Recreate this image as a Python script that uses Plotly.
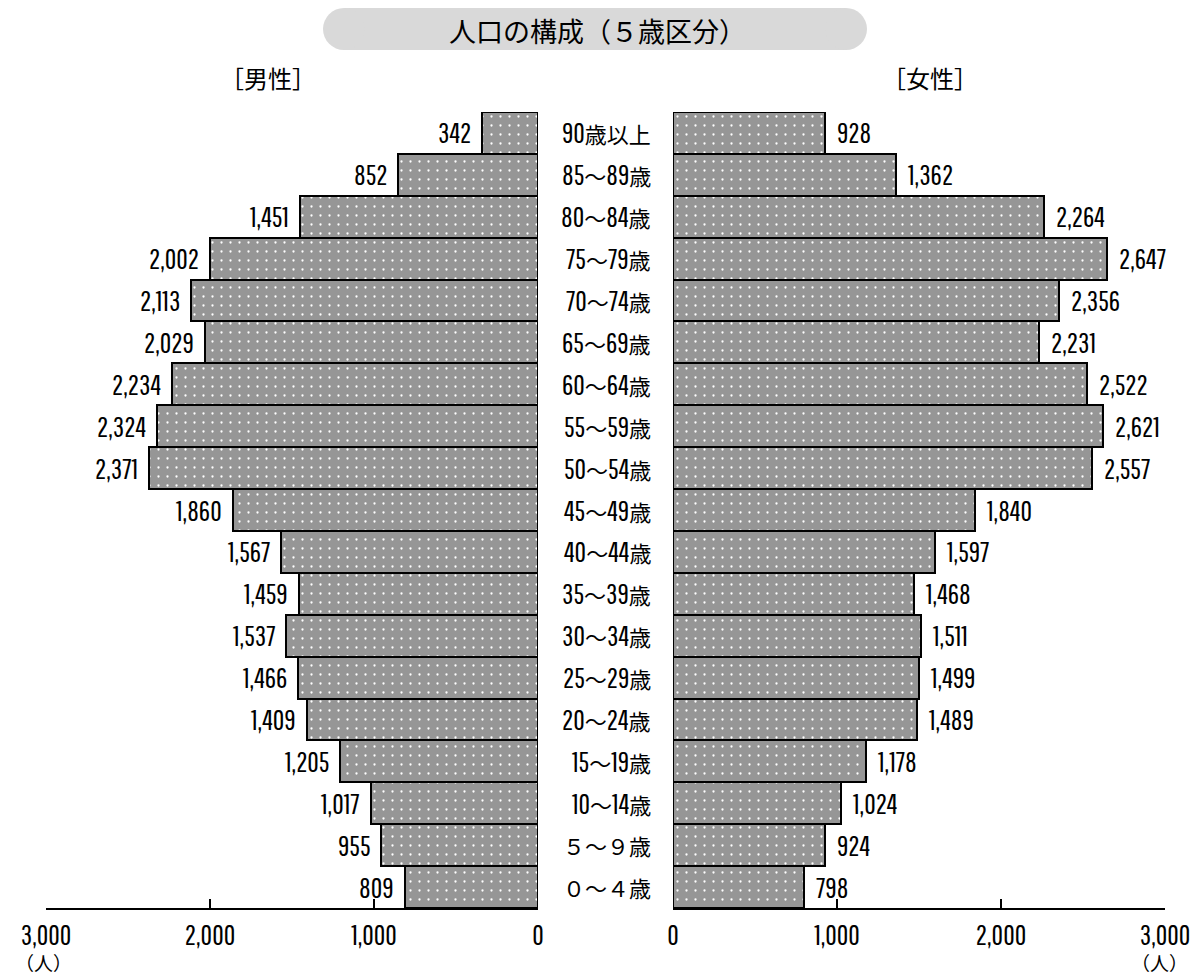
import re
import plotly.graph_objects as go

W, H = 1193, 978

age_groups = ["０～４歳", "５～９歳", "10～14歳", "15～19歳", "20～24歳", "25～29歳",
              "30～34歳", "35～39歳", "40～44歳", "45～49歳", "50～54歳", "55～59歳",
              "60～64歳", "65～69歳", "70～74歳", "75～79歳", "80～84歳", "85～89歳",
              "90歳以上"]
male = [809, 955, 1017, 1205, 1409, 1466, 1537, 1459, 1567, 1860, 2371, 2324,
        2234, 2029, 2113, 2002, 1451, 852, 342]
female = [798, 924, 1024, 1178, 1489, 1499, 1511, 1468, 1597, 1840, 2557, 2621,
          2522, 2231, 2356, 2647, 2264, 1362, 928]
tick_vals = [0, 1000, 2000, 3000]
tick_text = ["0", "1,000", "2,000", "3,000"]

NUM_FONT = "Pathway Gothic One, Noto Sans CJK JP"
JP_FONT = "Noto Sans CJK JP"
NUM_SIZE = 28


def px(x):
    return x / W


def py(y):
    return 1 - y / H


pattern = dict(shape=".", fgcolor="white", bgcolor="#969696", size=9,
               solidity=0.05, fillmode="replace")
bar_line = dict(color="black", width=2)

fig = go.Figure()
fig.add_trace(go.Bar(
    x=male, y=age_groups, orientation="h", xaxis="x", yaxis="y",
    marker=dict(color="#969696", pattern=pattern, line=bar_line), showlegend=False,
    hoverinfo="x+y",
))
fig.add_trace(go.Bar(
    x=female, y=age_groups, orientation="h", xaxis="x2", yaxis="y2",
    marker=dict(color="#969696", pattern=pattern, line=bar_line), showlegend=False,
    hoverinfo="x+y",
))

# value labels
for g, v in zip(age_groups, male):
    fig.add_annotation(text=f"{v:,}", x=v, y=g, xref="x", yref="y", xanchor="right",
                       yanchor="middle", xshift=-9, showarrow=False,
                       font=dict(family=NUM_FONT, size=NUM_SIZE, color="black"))
for g, v in zip(age_groups, female):
    fig.add_annotation(text=f"{v:,}", x=v, y=g, xref="x2", yref="y2", xanchor="left",
                       yanchor="middle", xshift=10, showarrow=False,
                       font=dict(family=NUM_FONT, size=NUM_SIZE, color="black"))

xcommon = dict(showline=True, linecolor="black", linewidth=2, ticks="inside",
               ticklen=9, tickwidth=2, tickcolor="black", showgrid=False,
               zeroline=False, tickvals=tick_vals, ticktext=tick_text,
               tickfont=dict(family=NUM_FONT, size=NUM_SIZE, color="black"),
               ticklabelstandoff=1, automargin=False, fixedrange=True)
ycommon = dict(type="category", categoryorder="array", categoryarray=age_groups,
               range=[-0.5, len(age_groups) - 0.5], showticklabels=False,
               showgrid=False, showline=False, ticks="", zeroline=False,
               automargin=False, fixedrange=True, domain=[py(908), py(112)])

fig.update_layout(
    width=W, height=H, margin=dict(l=0, r=0, t=0, b=0, autoexpand=False),
    paper_bgcolor="white", plot_bgcolor="rgba(0,0,0,0)",
    bargap=0, barmode="overlay",
    xaxis=dict(domain=[px(46), px(538)], range=[3000, 0], anchor="y", **xcommon),
    xaxis2=dict(domain=[px(673), px(1165)], range=[0, 3000], anchor="y2", **xcommon),
    yaxis=dict(anchor="x", **ycommon),
    yaxis2=dict(anchor="x2", **ycommon),
)


def paper_text(text, x, y, size):
    fig.add_annotation(text=text, xref="paper", yref="paper", x=px(x), y=py(y),
                       xanchor="center", yanchor="middle", showarrow=False,
                       font=dict(family=JP_FONT, size=size, color="black"))


# Title pill
fill = "#d9d9d9"
r = 21
fig.add_shape(type="rect", xref="paper", yref="paper", x0=px(323 + r), x1=px(867 - r),
              y0=py(50), y1=py(8), fillcolor=fill, line=dict(width=0), layer="below")
for cx in (323 + r, 867 - r):
    fig.add_shape(type="circle", xref="paper", yref="paper", x0=px(cx - r), x1=px(cx + r),
                  y0=py(50), y1=py(8), fillcolor=fill, line=dict(width=0), layer="below")
paper_text("人口の構成（５歳区分）", 597, 30, 27)
paper_text("［男性］", 268, 78, 24)
paper_text("［女性］", 930, 78, 24)
paper_text("（人）", 44, 962, 19)
paper_text("（人）", 1159, 962, 19)


def label_html(s):
    # ASCII digits in the condensed face, the rest in the Japanese face
    return re.sub(r"([0-9]+)",
                  lambda m: f"<span style=\"font-family:'Pathway Gothic One';font-size:{NUM_SIZE}px\">{m.group(1)}</span>",
                  s)


for g in age_groups:
    fig.add_annotation(text=label_html(g), xref="paper", yref="y", x=px(653), y=g,
                       xanchor="right", yanchor="middle", showarrow=False,
                       font=dict(family=JP_FONT, size=22, color="black"))

fig.write_html("out.html")
